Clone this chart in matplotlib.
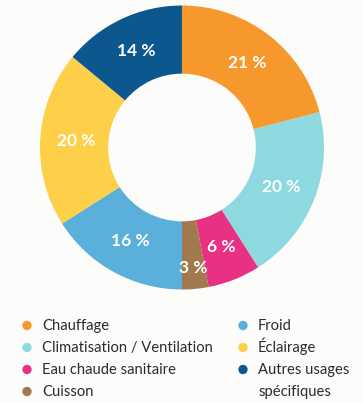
import numpy as np
import matplotlib.pyplot as plt

# energy use shares, clockwise from 12 o'clock
labels = ['Chauffage', 'Climatisation / Ventilation', 'Eau chaude sanitaire',
          'Cuisson', 'Froid', 'Éclairage', 'Autres usages\nspécifiques']
shares = [21, 20, 6, 3, 16, 20, 14]
colors = ['#F6982B', '#8DD9DF', '#E83183', '#A0794E',
          '#5AB0DB', '#FED049', '#0B578E']

W, H = 363, 403
fig = plt.figure(figsize=(W / 100, H / 100), dpi=100)
fig.patch.set_facecolor('#FCFDFB')

# donut: centre (182, 147) px, outer radius 142 px
cx, cy, r = 182, 147.5, 142
ax = fig.add_axes([(cx - r) / W, (H - cy - r) / H, 2 * r / W, 2 * r / H])
wedges, _ = ax.pie(shares, colors=colors, startangle=90, counterclock=False,
                   wedgeprops=dict(width=0.48, linewidth=0))
ax.set_xlim(-1, 1)
ax.set_ylim(-1, 1)
ax.set_aspect('equal')
ax.axis('off')

for w, val in zip(wedges, shares):
    ang = np.deg2rad((w.theta1 + w.theta2) / 2)
    rad = 0.85 if val < 5 else 0.75
    ax.text(rad * np.cos(ang), rad * np.sin(ang), f'{val} %',
            ha='center', va='center', color='white',
            fontsize=12.5, fontweight='bold', family='Lato')

# legend, two columns drawn in pixel coordinates
lg = fig.add_axes([0, 0, 1, 1])
lg.set_xlim(0, W)
lg.set_ylim(H, 0)
lg.axis('off')
lg.patch.set_alpha(0)
col_x = [27, 243]
row_y = [325.5, 347.5, 369.5, 391.5]
for i, (lab, c) in enumerate(zip(labels, colors)):
    col = 0 if i < 4 else 1
    row = i if i < 4 else i - 4
    x = col_x[col]
    lg.scatter([x], [row_y[row]], s=45, color=c, edgecolors='none')
    for k, line in enumerate(lab.split('\n')):
        lg.text(x + 15, row_y[row + k] + 4.5, line, ha='left', va='baseline',
                fontsize=10.6, color='#2B2B2B', family='Lato')

fig.savefig('out.png', dpi=100, facecolor=fig.get_facecolor())
